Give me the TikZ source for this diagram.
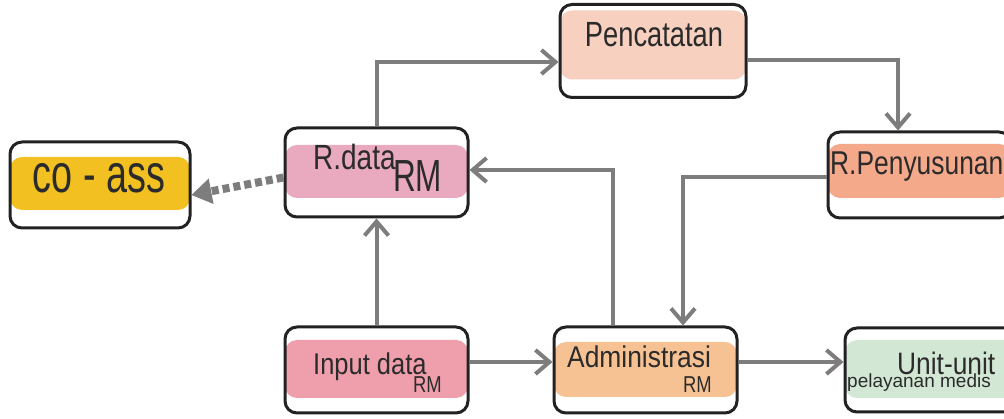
\documentclass[tikz,border=0pt]{standalone}
\usepackage{fontspec}
\setmainfont{Liberation Sans}
\usetikzlibrary{arrows.meta}

\definecolor{edge}{HTML}{222222}
\definecolor{flow}{HTML}{7D7D7D}
\definecolor{ink}{HTML}{2B2B2B}
\definecolor{cYellow}{HTML}{F2C020}
\definecolor{cPinkA}{HTML}{E9A9BE}
\definecolor{cSalmonA}{HTML}{F7D0C0}
\definecolor{cSalmonB}{HTML}{F5A98B}
\definecolor{cPinkB}{HTML}{EE9FAB}
\definecolor{cPeach}{HTML}{F7C293}
\definecolor{cGreen}{HTML}{D3E8D4}

\tikzset{
  % rounded box: white fill, coloured band between top/bottom insets
  box/.style n args={3}{draw=edge, line width=3pt, rounded corners=12pt,
    fill=white, inner sep=0pt,
    path picture={\fill[#1] ([yshift=-#2pt]path picture bounding box.north west)
      rectangle ([yshift=#3pt]path picture bounding box.south east);}},
  lbl/.style n args={2}{inner sep=0pt, text=ink,
    font=\fontsize{#1}{#1}\selectfont, xscale=#2},
  flowline/.style={draw=flow, line width=4pt,
    -{Straight Barb[length=14pt,width=24pt]}},
  dotline/.style={draw=flow, line width=8pt, dash pattern=on 7pt off 4pt,
    -{Triangle[length=20pt,width=26pt,line width=0pt]}}
}

\begin{document}
\begin{tikzpicture}[x=1pt,y=-1pt]
\useasboundingbox (0,0) rectangle (1004,419);
\clip (0,0) rectangle (1004,419);

% boxes
\node[box={cYellow}{15}{18}, minimum width=180pt, minimum height=86pt] (coass) at (100,185) {};
\node[box={cPinkA}{17}{19}, minimum width=183pt, minimum height=89pt] (rdata) at (376.5,172.5) {};
\node[box={cSalmonA}{6}{18}, minimum width=186pt, minimum height=93pt] (penc) at (653,51) {};
\node[box={cSalmonB}{12}{20}, minimum width=183pt, minimum height=86pt] (rpeny) at (919.5,175) {};
\node[box={cPinkB}{13}{15}, minimum width=183pt, minimum height=86pt] (input) at (376.5,370) {};
\node[box={cPeach}{15}{16}, minimum width=183pt, minimum height=86pt] (admin) at (645.5,370) {};
\node[box={cGreen}{12}{14}, minimum width=183pt, minimum height=84pt] (unit) at (936.5,370) {};

% labels
\node[lbl={54}{0.7}, anchor=base] (tcoass) at (99,193) {co - ass};
\node[lbl={35}{0.8}, anchor=base west] (trdata) at (313,170) {R.data};
\node[lbl={45}{0.7}, anchor=base west] (trdatarm) at (393,192) {RM};
\node[lbl={35}{0.78}, anchor=base] (tpenc) at (654,47) {Pencatatan};
\node[lbl={33}{0.8}, anchor=base west] (trpeny) at (830,175) {R.Penyusunan};
\node[lbl={30}{0.85}, anchor=base west] (tinput) at (313,375) {Input data};
\node[lbl={23}{0.8}, anchor=base west] (tinputrm) at (413,392) {RM};
\node[lbl={30}{0.88}, anchor=base west] (tadmin) at (567,368) {Administrasi};
\node[lbl={23}{0.8}, anchor=base west] (tadminrm) at (683,392) {RM};
\node[lbl={31}{0.85}, anchor=base west] (tunit) at (897,375) {Unit-unit};
\node[lbl={19}{1}, anchor=base west] (tunitsub) at (847,388) {pelayanan medis};

% connectors
\draw[flowline] (rdata.north) |- ([yshift=-11pt]penc.west);
\draw[flowline] ([yshift=-9pt]penc.east) -| ([xshift=-21.5pt]rpeny.north);
\draw[flowline] ([yshift=-2pt]rpeny.west) -| ([xshift=37.5pt]admin.north);
\draw[flowline] ([xshift=-32.5pt]admin.north) |- ([yshift=2.5pt]rdata.east);
\draw[flowline] (input.north) -- (rdata.south);
\draw[flowline] ([yshift=8pt]input.east) -- ([yshift=8pt]admin.west);
\draw[flowline] ([yshift=8pt]admin.east) -- ([yshift=8pt]unit.west);
\draw[dotline] ([yshift=-5pt]rdata.west) -- ([yshift=-10pt]coass.east);
\end{tikzpicture}
\end{document}
